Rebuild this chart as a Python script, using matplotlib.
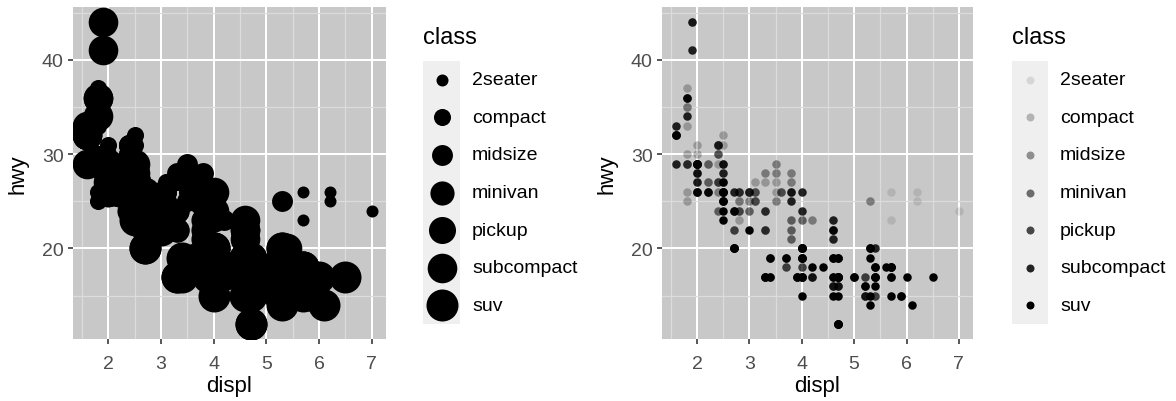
import numpy as np
import matplotlib
matplotlib.use("Agg")
import matplotlib.pyplot as plt
from matplotlib.patches import Rectangle

plt.rcParams["font.family"] = ["Liberation Sans", "DejaVu Sans"]

# ── data: mpg (displ, hwy) grouped by class ──────────────────────────────────

CLASSES = ["2seater", "compact", "midsize", "minivan", "pickup", "subcompact", "suv"]

seater_displ = [5.7, 5.7, 6.2, 6.2, 7.0]
seater_hwy   = [26, 23, 26, 25, 24]

compact_displ = [1.8, 1.8, 2.0, 2.0, 2.8, 2.8, 3.1,
                 1.8, 1.8, 2.0, 2.0, 2.8, 2.8, 3.1, 3.1,
                 2.4, 2.4, 2.5, 2.5, 3.5, 3.5,
                 2.5, 2.5, 2.5, 2.5,
                 2.2, 2.2, 2.4, 2.4, 3.0, 3.0, 3.3,
                 1.8, 1.8, 1.8, 1.8, 1.8,
                 2.0, 2.0, 2.0, 2.0, 2.8,
                 1.9, 2.0, 2.0, 2.0, 2.0, 2.5, 2.5, 2.8, 2.8]
compact_hwy   = [29, 29, 31, 30, 26, 26, 27,
                 26, 25, 28, 27, 25, 25, 25, 25,
                 29, 27, 31, 32, 27, 26,
                 25, 27, 25, 27,
                 27, 29, 31, 31, 26, 26, 27,
                 30, 33, 35, 37, 35,
                 29, 26, 29, 29, 24,
                 44, 29, 26, 29, 29, 29, 29, 23, 24]

midsize_displ = [2.8, 3.1, 4.2,
                 2.4, 2.4, 3.1, 3.5, 3.6,
                 2.4, 2.4, 2.4, 2.4, 2.5, 2.5, 3.3,
                 3.0, 3.0, 3.5,
                 3.1, 3.8, 3.8, 3.8, 5.3,
                 2.2, 2.2, 2.4, 2.4, 3.0, 3.0, 3.5,
                 1.8, 1.8, 2.0, 2.0, 2.8, 2.8, 3.6]
midsize_hwy   = [24, 25, 23,
                 27, 30, 26, 29, 26,
                 26, 27, 30, 31, 26, 26, 28,
                 26, 25, 25,
                 26, 26, 27, 28, 25,
                 29, 27, 31, 31, 26, 26, 28,
                 29, 29, 28, 29, 26, 26, 26]

minivan_displ = [2.4, 3.0, 3.3, 3.3, 3.3, 3.3, 3.3, 3.8, 3.8, 3.8, 4.0]
minivan_hwy   = [24, 24, 22, 22, 24, 24, 17, 22, 21, 23, 23]

pickup_displ = [3.7, 3.7, 3.9, 3.9, 4.7, 4.7, 4.7, 5.2, 5.2,
                4.7, 4.7, 4.7, 4.7, 4.7, 4.7, 5.2, 5.2, 5.7, 5.9,
                4.2, 4.2, 4.6, 4.6, 4.6, 5.4, 5.4,
                2.7, 2.7, 2.7, 3.4, 3.4, 4.0, 4.0]
pickup_hwy   = [19, 18, 17, 17, 19, 19, 12, 17, 15,
                16, 12, 17, 17, 16, 12, 15, 16, 17, 15,
                17, 17, 16, 16, 17, 15, 17,
                20, 20, 22, 17, 19, 18, 20]

subcompact_displ = [3.8, 3.8, 4.0, 4.0, 4.6, 4.6, 4.6, 4.6, 5.4,
                    1.6, 1.6, 1.6, 1.6, 1.6, 1.8, 1.8, 1.8, 2.0,
                    2.0, 2.0, 2.0, 2.0, 2.7, 2.7, 2.7,
                    2.2, 2.2, 2.5, 2.5,
                    1.9, 1.9, 2.0, 2.0, 2.5, 2.5]
subcompact_hwy   = [26, 25, 26, 24, 21, 22, 23, 22, 20,
                    33, 32, 32, 29, 32, 34, 36, 36, 29,
                    26, 29, 28, 27, 26, 24, 24,
                    26, 26, 26, 26,
                    44, 41, 29, 26, 28, 29]

suv_displ = [5.3, 5.3, 5.3, 5.7, 6.0,
             5.3, 5.3, 5.7, 6.5,
             3.9, 4.7, 4.7, 4.7, 5.2, 5.7, 5.9,
             4.6, 5.4, 5.4,
             4.0, 4.0, 4.0, 4.0, 4.6, 5.0,
             3.0, 3.7, 4.0, 4.7, 4.7, 4.7, 5.7, 6.1,
             4.0, 4.2, 4.4, 4.6,
             5.4, 5.4, 5.4,
             4.0, 4.0, 4.6, 5.0,
             3.3, 3.3, 4.0, 5.6,
             2.5, 2.5, 2.5, 2.5, 2.5, 2.5,
             2.7, 2.7, 3.4, 3.4, 4.0, 4.7,
             4.7, 5.7]
suv_hwy   = [20, 15, 20, 17, 17,
             19, 14, 15, 17,
             17, 17, 12, 17, 16, 18, 15,
             17, 17, 18,
             17, 19, 17, 19, 19, 17,
             22, 19, 20, 17, 12, 19, 18, 14,
             15, 18, 18, 15,
             17, 16, 18,
             17, 19, 19, 17,
             17, 17, 20, 18,
             25, 24, 27, 25, 26, 23,
             20, 20, 19, 17, 20, 17,
             15, 18]

DISPL = [seater_displ, compact_displ, midsize_displ, minivan_displ,
         pickup_displ, subcompact_displ, suv_displ]
HWY   = [seater_hwy, compact_hwy, midsize_hwy, minivan_hwy,
         pickup_hwy, subcompact_hwy, suv_hwy]

# ── styling ──────────────────────────────────────────────────────────────────

W, H, DPI = 1176, 402, 100
PX = 72.0 / DPI          # points per pixel

PANEL_BG = "#C8C8C8"
MINOR = "#DCDCDC"
KEY_BG = "#EFEFEF"

n = len(CLASSES)
size_px  = np.sqrt(np.linspace(12.0 ** 2, 32.0 ** 2, n))   # ordinal size scale
alpha_lv = np.linspace(0.1, 1.0, n)                       # ordinal alpha scale


def style_panel(ax):
    ax.set_facecolor(PANEL_BG)
    for s in ax.spines.values():
        s.set_visible(False)
    ax.set_xlim(1.33, 7.27)
    ax.set_ylim(10.4, 45.6)
    ax.set_xticks([2, 3, 4, 5, 6, 7])
    ax.set_yticks([20, 30, 40])
    ax.set_xticks(np.arange(1.5, 7.0, 1.0), minor=True)
    ax.set_yticks([15, 25, 35, 45], minor=True)
    ax.grid(which="major", color="white", linewidth=2.0 * PX, zorder=0)
    ax.grid(which="minor", color=MINOR, linewidth=1.2 * PX, zorder=0)
    ax.set_axisbelow(True)
    ax.tick_params(which="major", length=5 * PX, width=1.6 * PX, color="#333333",
                   labelsize=14, labelcolor="#4D4D4D")
    ax.tick_params(axis="x", which="major", pad=8)
    ax.tick_params(axis="y", which="major", pad=3)
    ax.tick_params(which="minor", length=0)
    ax.set_xlabel("displ", fontsize=16, labelpad=2)
    ax.set_ylabel("hwy", fontsize=16, labelpad=10)


def draw_legend(x0, key_w, sizes, alphas):
    lax = fig.add_axes([0, 0, 1, 1], facecolor="none")
    lax.set_xlim(0, W)
    lax.set_ylim(H, 0)
    lax.axis("off")
    top, step = 62, 37.6
    lax.text(x0, 38, "class", fontsize=17, va="center", ha="left")
    lax.add_patch(Rectangle((x0, top), key_w, step * n, color=KEY_BG, lw=0))
    ys = top + step * (np.arange(n) + 0.5)
    for i, y in enumerate(ys):
        lax.scatter([x0 + key_w / 2], [y], s=(sizes[i] * PX) ** 2, color="black",
                    alpha=alphas[i], linewidths=0)
        lax.text(x0 + key_w + 12, y, CLASSES[i], fontsize=14, va="center", ha="left")


fig = plt.figure(figsize=(W / DPI, H / DPI), dpi=DPI)

# left: size mapped to class
ax1 = fig.add_axes([73 / W, 1 - 340 / H, 313 / W, 332 / H])
style_panel(ax1)
for i in range(n):
    ax1.scatter(DISPL[i], HWY[i], s=(size_px[i] * PX) ** 2, color="black",
                linewidths=0, zorder=3)

# right: alpha mapped to class
ax2 = fig.add_axes([662 / W, 1 - 340 / H, 311 / W, 332 / H])
style_panel(ax2)
for i in range(n):
    ax2.scatter(DISPL[i], HWY[i], s=(8.5 * PX) ** 2, color="black",
                alpha=alpha_lv[i], linewidths=0, zorder=3)

draw_legend(423, 37, size_px, [1.0] * n)
draw_legend(1012, 36, [8.0] * n, alpha_lv)

fig.savefig("out.png", dpi=DPI)
